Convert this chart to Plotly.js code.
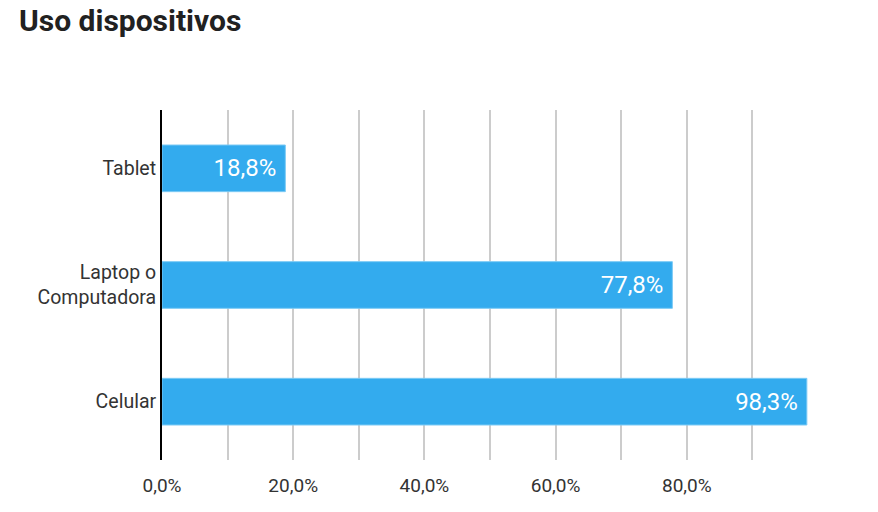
<!DOCTYPE html>
<html>
<head>
<meta charset="utf-8">
<script src="https://cdn.plot.ly/plotly-3.0.1.min.js"></script>
<style>html,body{margin:0;padding:0;background:#fff;}#chart{width:878px;height:512px;}</style>
</head>
<body>
<div id="chart"></div>
<script>
const categories = ["Celular", "Laptop o<br>Computadora", "Tablet"];
const values = [98.3, 77.8, 18.8];
const tickVals = [0, 10, 20, 30, 40, 50, 60, 70, 80, 90, 100];
const tickText = ["0,0%", "", "20,0%", "", "40,0%", "", "60,0%", "", "80,0%", "", ""];

const trace = {
  type: 'bar',
  orientation: 'h',
  y: categories,
  x: values,
  width: 0.4,
  marker: {color: '#33abee', line: {color: '#7ccaf5', width: 1}},
  texttemplate: '%{x:.1f}%\u00a0',
  textposition: 'inside',
  insidetextanchor: 'end',
  textfont: {family: 'Roboto', size: 24, color: '#ffffff'},
  hoverinfo: 'none',
  cliponaxis: false
};

const layout = {
  width: 878, height: 512,
  separators: ',.',
  margin: {l: 162, r: 60, t: 110, b: 52},
  paper_bgcolor: '#ffffff', plot_bgcolor: '#ffffff',
  font: {family: 'Roboto', color: '#333333', size: 19.5},
  title: {text: '<b>Uso dispositivos</b>', x: 0, xref: 'container', xanchor: 'left', y: 1, yref: 'container', yanchor: 'top', pad: {t: 10, l: 19},
          font: {family: 'Roboto', size: 30, color: '#212121'}},
  xaxis: {
    range: [0, 100], tickvals: tickVals, ticktext: tickText,
    showgrid: true, gridcolor: '#cccccc', gridwidth: 2,
    zeroline: false, showline: false, ticks: '', ticklabelstandoff: 12,
    tickfont: {family: 'Roboto', size: 19, color: '#333333'}, fixedrange: true
  },
  yaxis: {
    range: [-0.5, 2.5], type: 'category',
    showgrid: false, zeroline: false, showline: true, linecolor: '#000000', linewidth: 2,
    ticks: '', ticklabelstandoff: 0,
    tickfont: {family: 'Roboto', size: 19.5, color: '#333333'}, fixedrange: true
  },
  showlegend: false
};

Plotly.newPlot('chart', [trace], layout, {displayModeBar: false, staticPlot: true});
</script>
</body>
</html>
